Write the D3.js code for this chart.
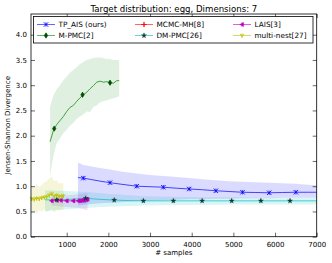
<!DOCTYPE html>
<html>
<head>
<meta charset="utf-8">
<script src="https://cdn.jsdelivr.net/npm/d3@7"></script>
<style>
  body { margin: 0; background: #fff; }
  svg { font-family: 'DejaVu Sans', sans-serif; }
</style>
</head>
<body>
<svg width="332" height="263"></svg>
<script>
// ---- data ----
const xTicks = [1000, 2000, 3000, 4000, 5000, 6000, 7000];
const yTicks = [0, 0.5, 1, 1.5, 2, 2.5, 3, 3.5, 4];

const mpmcX = [600, 680, 760, 840, 920, 1000, 1080, 1160, 1240, 1320, 1400, 1480, 1560, 1640, 1720, 1800, 1880, 1960, 2040, 2120, 2200, 2260];
const mpmcMean = [1.88, 2.1, 2.22, 2.3, 2.38, 2.48, 2.56, 2.6, 2.68, 2.75, 2.81, 2.86, 2.93, 2.99, 3.06, 3.08, 3.06, 3.07, 3.05, 3.04, 3.09, 3.09];
const mpmcLo = [1.2, 1.6, 1.85, 1.95, 2.05, 2.12, 2.2, 2.25, 2.33, 2.38, 2.42, 2.48, 2.47, 2.57, 2.6, 2.66, 2.68, 2.7, 2.72, 2.74, 2.76, 2.78];
const mpmcHi = [2.57, 2.8, 2.92, 3.0, 3.1, 3.17, 3.25, 3.3, 3.36, 3.42, 3.46, 3.5, 3.52, 3.54, 3.55, 3.55, 3.54, 3.52, 3.52, 3.5, 3.5, 3.5];
const mpmcMarkX = [700, 1380, 2040];
const mpmcMarkY = [2.14, 2.81, 3.05];

const tpX = [1270, 1400, 1600, 1800, 2040, 2300, 2680, 3000, 3320, 3640, 3940, 4260, 4580, 4900, 5220, 5540, 5860, 6180, 6500, 6800, 7000];
const tpMean = [1.17, 1.16, 1.13, 1.1, 1.07, 1.04, 1.0, 0.99, 0.98, 0.96, 0.945, 0.93, 0.91, 0.895, 0.88, 0.875, 0.87, 0.875, 0.88, 0.88, 0.88];
const tpHi = [1.47, 1.42, 1.39, 1.36, 1.33, 1.29, 1.25, 1.22, 1.2, 1.18, 1.16, 1.14, 1.12, 1.1, 1.09, 1.08, 1.07, 1.06, 1.05, 1.03, 1.02];
const tpLo = [0.62, 0.63, 0.65, 0.66, 0.67, 0.68, 0.7, 0.71, 0.72, 0.73, 0.74, 0.74, 0.75, 0.75, 0.76, 0.76, 0.76, 0.77, 0.77, 0.77, 0.77];
const tpMarkX = [1400, 2040, 2680, 3320, 3940, 4580, 5220, 5860, 6500];
const tpMarkY = [1.16, 1.07, 1.0, 0.98, 0.945, 0.91, 0.88, 0.87, 0.88];

const dmX = [480, 760, 1100, 1455, 1800, 2140, 2500, 2840, 3560, 4250, 4960, 5660, 6360, 7000];
const dmMean = [0.73, 0.73, 0.74, 0.76, 0.74, 0.725, 0.715, 0.71, 0.71, 0.71, 0.71, 0.71, 0.71, 0.71];
const dmHi = [0.92, 0.91, 0.9, 0.89, 0.86, 0.84, 0.82, 0.8, 0.79, 0.78, 0.78, 0.77, 0.77, 0.77];
const dmLo = [0.5, 0.53, 0.55, 0.57, 0.59, 0.6, 0.61, 0.62, 0.63, 0.63, 0.64, 0.64, 0.64, 0.64];
const dmMarkX = [760, 1455, 2140, 2840, 3560, 4250, 4960, 5660, 6360];
const dmMarkY = [0.73, 0.76, 0.725, 0.71, 0.71, 0.71, 0.71, 0.71, 0.71];

const laisX = [640, 760, 860, 1000, 1160, 1280, 1330, 1380, 1420, 1460, 1500];
const laisMean = [0.71, 0.72, 0.72, 0.71, 0.71, 0.71, 0.71, 0.72, 0.72, 0.73, 0.74];
const laisHi = [0.8, 0.8, 0.81, 0.82, 0.83, 0.84, 0.85, 0.85, 0.86, 0.86, 0.87];
const laisLo = [0.62, 0.61, 0.6, 0.59, 0.58, 0.57, 0.56, 0.55, 0.54, 0.53, 0.53];

const mnX = [160, 220, 280, 340, 400, 460, 520, 580, 640, 700, 760, 820, 880, 920];
const mnMean = [0.75, 0.74, 0.76, 0.75, 0.77, 0.78, 0.79, 0.82, 0.85, 0.8, 0.82, 0.8, 0.8, 0.81];
const mnHi = [1.0, 0.96, 1.05, 0.98, 1.02, 1.08, 1.1, 1.15, 1.19, 1.1, 1.12, 1.05, 1.07, 1.06];
const mnLo = [0.47, 0.5, 0.46, 0.52, 0.5, 0.54, 0.5, 0.52, 0.55, 0.48, 0.53, 0.52, 0.54, 0.53];

const legendNames = ['TP_AIS (ours)', 'MCMC-MH[8]', 'LAIS[3]', 'M-PMC[2]', 'DM-PMC[26]', 'multi-nest[27]'];
const legendColors = ['#0000ff', '#ff0000', '#bf00bf', '#008000', '#00bfbf', '#bfbf00'];
const legendMarkers = ['x', '+', 'tri', 'diamond', 'star', 'y'];

// ---- layout ----
const svg = d3.select('svg');
const mLeft = 31, mRight = 316.7, mTop = 14, mBottom = 236.7;

const x = d3.scaleLinear().domain([143, 7000]).range([mLeft, mRight]);
const y = d3.scaleLinear().domain([0, 4.41]).range([mBottom, mTop]);

const zip = (xs, ...cols) => xs.map((v, i) => [v, ...cols.map(c => c[i])]);

const area = d3.area().x(d => x(d[0])).y0(d => y(d[2])).y1(d => y(d[1]));
const line = d3.line().x(d => x(d[0])).y(d => y(d[1]));

const plot = svg.append('g');

const series = [
  { xs: tpX, m: tpMean, lo: tpLo, hi: tpHi, c: '#0000ff', a: 0.14 },
  { xs: laisX, m: laisMean, lo: laisLo, hi: laisHi, c: '#bf00bf', a: 0.12 },
  { xs: mpmcX, m: mpmcMean, lo: mpmcLo, hi: mpmcHi, c: '#008000', a: 0.12 },
  { xs: dmX, m: dmMean, lo: dmLo, hi: dmHi, c: '#00bfbf', a: 0.15 },
  { xs: mnX, m: mnMean, lo: mnLo, hi: mnHi, c: '#bfbf00', a: 0.15 },
];

series.forEach(s => {
  plot.append('path')
    .datum(zip(s.xs, s.hi, s.lo))
    .attr('d', area)
    .attr('fill', s.c)
    .attr('fill-opacity', s.a)
    .attr('stroke', 'none');
});

series.forEach(s => {
  plot.append('path')
    .datum(zip(s.xs, s.m))
    .attr('d', line)
    .attr('fill', 'none')
    .attr('stroke', s.c)
    .attr('stroke-opacity', 0.7)
    .attr('stroke-width', 1);
});

// marker drawing helper (sized in px around a centre)
function drawMarker(g, kind, cx, cy, color) {
  // little error bar tick through every marker, like plt.errorbar
  g.append('line').attr('x1', cx).attr('x2', cx).attr('y1', cy - 2.2).attr('y2', cy + 2.2)
    .attr('stroke', color).attr('stroke-width', 0.7);
  if (kind === 'x') {
    g.append('path').attr('d', `M${cx - 2.2},${cy - 2.2}L${cx + 2.2},${cy + 2.2}M${cx - 2.2},${cy + 2.2}L${cx + 2.2},${cy - 2.2}`)
      .attr('stroke', color).attr('stroke-width', 0.9);
  } else if (kind === '+') {
    g.append('path').attr('d', `M${cx - 2.6},${cy}L${cx + 2.6},${cy}M${cx},${cy - 2.6}L${cx},${cy + 2.6}`)
      .attr('stroke', color).attr('stroke-width', 0.9);
  } else if (kind === 'tri') {
    g.append('path').attr('d', `M${cx - 2.3},${cy}L${cx + 1.6},${cy - 2.1}L${cx + 1.6},${cy + 2.1}Z`)
      .attr('fill', color).attr('stroke', color).attr('stroke-width', 0.4);
  } else if (kind === 'diamond') {
    g.append('path').attr('d', `M${cx},${cy - 2.7}L${cx + 1.8},${cy}L${cx},${cy + 2.7}L${cx - 1.8},${cy}Z`)
      .attr('fill', '#005000').attr('stroke', '#004000').attr('stroke-width', 0.5);
  } else if (kind === 'star') {
    g.append('path').attr('d', d3.symbol(d3.symbolStar, 8)())
      .attr('transform', `translate(${cx},${cy})`)
      .attr('fill', '#1a3a3a').attr('stroke', '#102020').attr('stroke-width', 0.3);
  } else if (kind === 'y') {
    g.append('path').attr('d', `M${cx},${cy}L${cx},${cy + 2.2}M${cx},${cy}L${cx - 2},${cy - 1.2}M${cx},${cy}L${cx + 2},${cy - 1.2}`)
      .attr('stroke', color).attr('stroke-width', 0.9);
  }
}

const marks = plot.append('g');
tpMarkX.forEach((v, i) => drawMarker(marks, 'x', x(v), y(tpMarkY[i]), '#0000ff'));
laisX.forEach((v, i) => drawMarker(marks, 'tri', x(v), y(laisMean[i]), '#bf00bf'));
mpmcMarkX.forEach((v, i) => drawMarker(marks, 'diamond', x(v), y(mpmcMarkY[i]), '#008000'));
dmMarkX.forEach((v, i) => drawMarker(marks, 'star', x(v), y(dmMarkY[i]), '#00bfbf'));
mnX.forEach((v, i) => drawMarker(marks, 'y', x(v), y(mnMean[i]), '#bfbf00'));

// ---- axes (ticks pointing inward on all four sides) ----
const fs = 7;
const xAxis = svg.append('g').attr('transform', `translate(0,${mBottom})`)
  .call(d3.axisBottom(x).tickValues(xTicks).tickSize(-4).tickPadding(5).tickFormat(d3.format('d')));
const xTop = svg.append('g').attr('transform', `translate(0,${mTop})`)
  .call(d3.axisTop(x).tickValues(xTicks).tickSize(-4).tickFormat(''));
const yAxis = svg.append('g').attr('transform', `translate(${mLeft},0)`)
  .call(d3.axisLeft(y).tickValues(yTicks).tickSize(-4).tickPadding(4).tickFormat(d3.format('.1f')));
const yRight = svg.append('g').attr('transform', `translate(${mRight},0)`)
  .call(d3.axisRight(y).tickValues(yTicks).tickSize(-4).tickFormat(''));

[xAxis, xTop, yAxis, yRight].forEach(a => {
  a.select('.domain').remove();
  a.selectAll('.tick line').attr('stroke', '#000').attr('stroke-width', 0.6);
  a.selectAll('.tick text').attr('font-size', fs).attr('font-family', 'DejaVu Sans').attr('fill', '#000');
});

svg.append('rect')
  .attr('x', mLeft).attr('y', mTop)
  .attr('width', mRight - mLeft).attr('height', mBottom - mTop)
  .attr('fill', 'none').attr('stroke', '#000').attr('stroke-width', 0.8);

// ---- labels ----
svg.append('text')
  .attr('x', (mLeft + mRight) / 2).attr('y', 11.5)
  .attr('text-anchor', 'middle').attr('font-size', 8.6)
  .text('Target distribution: egg, Dimensions: 7');

svg.append('text')
  .attr('x', (mLeft + mRight) / 2).attr('y', 255)
  .attr('text-anchor', 'middle').attr('font-size', 7)
  .text('# samples');

svg.append('text')
  .attr('transform', `translate(10,${(mTop + mBottom) / 2}) rotate(-90)`)
  .attr('text-anchor', 'middle').attr('font-size', 7)
  .text('Jensen-Shannon Divergence');

// ---- legend ----
const legend = svg.append('g');
legend.append('rect')
  .attr('x', 33.5).attr('y', 16.5).attr('width', 279.5).attr('height', 26.5)
  .attr('fill', '#fff').attr('stroke', '#000').attr('stroke-width', 0.8);

const colX = [37, 135, 233];
const rowY = [24.5, 35.5];
legendNames.forEach((name, i) => {
  const cx = colX[i % 3], cy = rowY[Math.floor(i / 3)];
  const g = legend.append('g');
  g.append('line').attr('x1', cx).attr('x2', cx + 18).attr('y1', cy).attr('y2', cy)
    .attr('stroke', legendColors[i]).attr('stroke-opacity', 0.6).attr('stroke-width', 1);
  drawMarker(g, legendMarkers[i], cx + 9, cy, legendColors[i]);
  g.append('text').attr('x', cx + 21.5).attr('y', cy + 2.6)
    .attr('font-size', 7.3).text(name);
});
</script>
</body>
</html>
